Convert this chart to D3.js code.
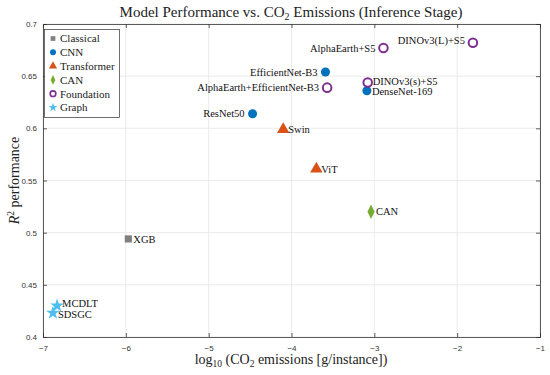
<!DOCTYPE html>
<html><head><meta charset="utf-8">
<script src="https://cdn.jsdelivr.net/npm/d3@7"></script>
<style>body{margin:0;background:#fff}svg{display:block}</style>
</head><body>
<svg id="c" width="550" height="375"></svg>
<script>
const models = ["XGB","MCDLT","SDSGC","ResNet50","EfficientNet-B3","DenseNet-169","Swin","ViT","CAN","AlphaEarth+EfficientNet-B3","AlphaEarth+S5","DINOv3(s)+S5","DINOv3(L)+S5"];
const groups = ["Classical","Graph","Graph","CNN","CNN","CNN","Transformer","Transformer","CAN","Foundation","Foundation","Foundation","Foundation"];
const logCO2 = [-5.97,-6.83,-6.88,-4.47,-3.59,-3.09,-4.10,-3.70,-3.04,-3.57,-2.89,-3.08,-1.81];
const r2 = [0.494,0.430,0.423,0.614,0.654,0.636,0.599,0.561,0.520,0.639,0.677,0.644,0.682];
const legendGroups = ["Classical","CNN","Transformer","CAN","Foundation","Graph"];
const xTicks = [-7,-6,-5,-4,-3,-2,-1];
const yTicks = [0.4,0.45,0.5,0.55,0.6,0.65,0.7];
// label placement (left side labels)
const leftLabels = ["ResNet50","EfficientNet-B3","AlphaEarth+EfficientNet-B3","AlphaEarth+S5","DINOv3(L)+S5"];
const labelShift = {"DINOv3(L)+S5":-2,"MCDLT":-2.5,"SDSGC":1.5,"DINOv3(s)+S5":-1.5,"DenseNet-169":1};

const colors = {Classical:"#808080",CNN:"#0072BD",Transformer:"#D95319",CAN:"#77AC30",Foundation:"#7E2F8E",Graph:"#4DBEEE"};
const svg = d3.select("#c");
const L=43,R=540,T=24,B=337;
const x = d3.scaleLinear().domain([-7,-1]).range([L,R]);
const y = d3.scaleLinear().domain([0.4,0.7]).range([B,T]);
const serif = "'Liberation Serif','Times New Roman',serif";
const sans = "'Liberation Sans',Arial,sans-serif";

// grid
svg.append("g").selectAll("line").data(xTicks).join("line")
  .attr("x1",d=>x(d)).attr("x2",d=>x(d)).attr("y1",T).attr("y2",B)
  .attr("stroke","#e6e6e6").attr("stroke-width",0.8);
svg.append("g").selectAll("line").data(yTicks).join("line")
  .attr("y1",d=>y(d)).attr("y2",d=>y(d)).attr("x1",L).attr("x2",R)
  .attr("stroke","#e6e6e6").attr("stroke-width",0.8);

// axes
const xa = svg.append("g").attr("transform",`translate(0,${B})`)
  .call(d3.axisBottom(x).tickValues(xTicks).tickSize(-4).tickPadding(8).tickFormat(d3.format("d")));
const xt = svg.append("g").attr("transform",`translate(0,${T})`)
  .call(d3.axisTop(x).tickValues(xTicks).tickSize(-4).tickFormat(""));
const ya = svg.append("g").attr("transform",`translate(${L},0)`)
  .call(d3.axisLeft(y).tickValues(yTicks).tickSize(-4).tickPadding(6).tickFormat(d=>String(+d.toFixed(2))));
const yr = svg.append("g").attr("transform",`translate(${R},0)`)
  .call(d3.axisRight(y).tickValues(yTicks).tickSize(-4).tickFormat(""));
[xa,xt,ya,yr].forEach(g=>{
  g.selectAll("path").attr("stroke","#333").attr("stroke-width",0.8);
  g.selectAll("line").attr("stroke","#333").attr("stroke-width",0.8);
  g.selectAll("text").attr("fill","#333").style("font-family",sans).style("font-size","8px");
});

// title
const title = svg.append("text").attr("x",291).attr("y",17).attr("text-anchor","middle")
  .style("font-family",serif).style("font-size","15px").attr("fill","#222");
title.append("tspan").text("Model Performance vs. CO");
title.append("tspan").text("2").attr("font-size","10px").attr("dy",3);
title.append("tspan").text(" Emissions (Inference Stage)").attr("dy",-3);

// x label
const xl = svg.append("text").attr("x",291).attr("y",364).attr("text-anchor","middle")
  .style("font-family",serif).style("font-size","14px").attr("fill","#222");
xl.append("tspan").text("log");
xl.append("tspan").text("10").attr("font-size","9.5px").attr("dy",3);
xl.append("tspan").text(" (CO").attr("dy",-3);
xl.append("tspan").text("2").attr("font-size","9.5px").attr("dy",3);
xl.append("tspan").text(" emissions [g/instance])").attr("dy",-3);

// y label
const yl = svg.append("text").attr("transform",`translate(19,${(T+B)/2}) rotate(-90)`).attr("text-anchor","middle")
  .style("font-family",serif).style("font-size","14px").attr("fill","#222");
yl.append("tspan").text("R").attr("font-style","italic");
yl.append("tspan").text("2").attr("font-size","9.5px").attr("dy",-5);
yl.append("tspan").text(" performance").attr("dy",5);

function marker(g, grp, s){
  const c = colors[grp];
  if(grp==="Classical") g.append("path").attr("d",d3.symbol(d3.symbolSquare, s*0.8)()).attr("fill",c);
  else if(grp==="CNN") g.append("circle").attr("r",Math.sqrt(s/Math.PI)).attr("fill",c);
  else if(grp==="Transformer") g.append("path").attr("d",d3.symbol(d3.symbolTriangle, s*1.05)()).attr("fill",c);
  else if(grp==="CAN") g.append("path").attr("d",d3.symbol(d3.symbolDiamond, s*0.95)()).attr("fill",c).attr("transform","scale(0.85,1)");
  else if(grp==="Foundation") g.append("circle").attr("r",Math.sqrt(s/Math.PI)*0.95).attr("fill","none").attr("stroke",c).attr("stroke-width",2);
  else if(grp==="Graph") g.append("path").attr("d",d3.symbol(d3.symbolStar, s*0.9)()).attr("fill",c);
}

// points
const pts = svg.append("g");
models.forEach((m,i)=>{
  const g = pts.append("g").attr("transform",`translate(${x(logCO2[i])},${y(r2[i])})`);
  marker(g, groups[i], 64);
  const left = leftLabels.includes(m);
  g.append("text").attr("x", left?-8:5).attr("y", labelShift[m]||0).attr("dy","0.35em")
    .attr("text-anchor", left?"end":"start")
    .style("font-family",serif).style("font-size","10.5px").attr("fill","#111").text(m);
});

// legend
const lg = svg.append("g");
lg.append("rect").attr("x",44.5).attr("y",29.5).attr("width",75).attr("height",88)
  .attr("fill","#fff").attr("stroke","#333").attr("stroke-width",0.7);
legendGroups.forEach((grp,i)=>{
  const yy = 38.5 + i*13.8;
  const g = lg.append("g").attr("transform",`translate(53,${yy})`);
  marker(g, grp, 28);
  g.select("circle[fill=none]").attr("stroke-width",1.6);
  g.append("text").attr("x",7).attr("dy","0.35em").style("font-family",serif).style("font-size","11px").attr("fill","#222").text(grp);
});
</script>
</body></html>
